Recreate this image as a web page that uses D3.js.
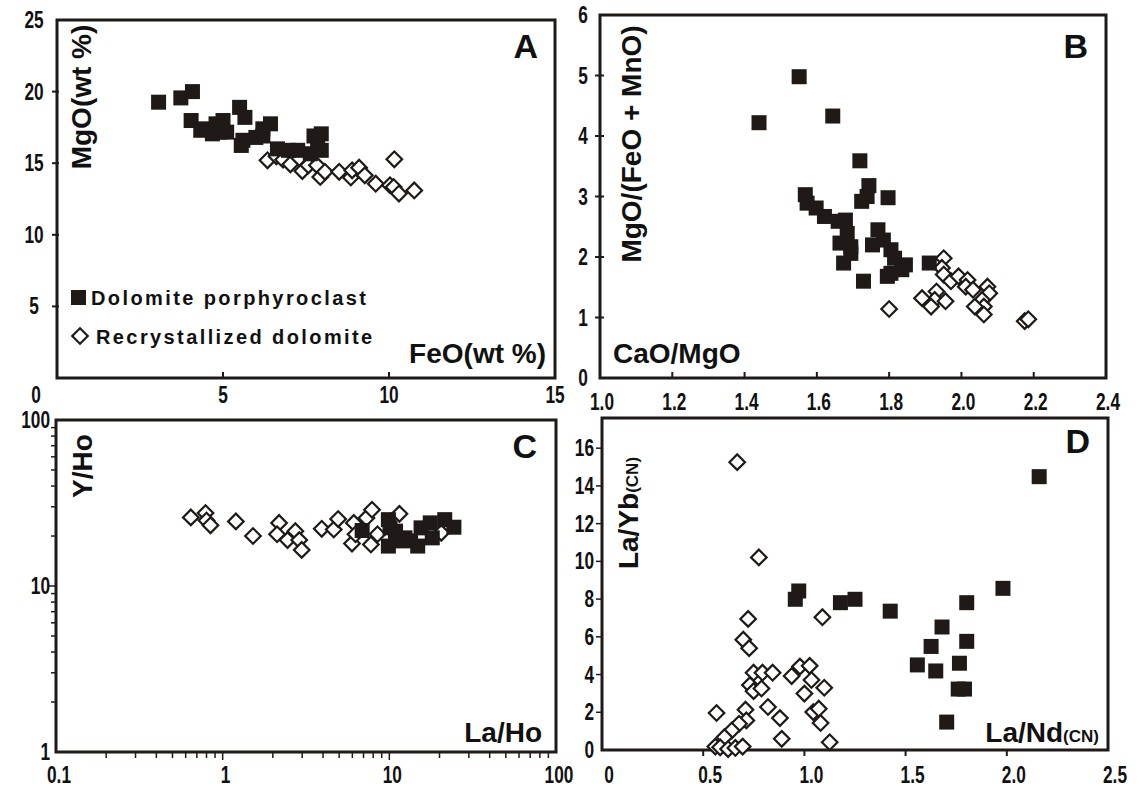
<!DOCTYPE html>
<html>
<head>
<meta charset="utf-8">
<script src="https://d3js.org/d3.v7.min.js"></script>
<style>
  body { margin: 0; background: #fff; }
  svg { display: block; }
  .tick { font-family: "Liberation Sans", Arial, sans-serif; font-weight: bold; font-size: 24px; fill: #111; }
  .title { font-family: "Liberation Sans", Arial, sans-serif; font-weight: bold; font-size: 28px; fill: #111; }
  .letter { font-family: "Liberation Sans", Arial, sans-serif; font-weight: bold; font-size: 34px; fill: #111; }
  .legend { font-family: "Liberation Sans", Arial, sans-serif; font-weight: bold; font-size: 20px; letter-spacing: 2.4px; fill: #111; }
</style>
</head>
<body>
<svg id="fig" width="1139" height="787"></svg>
<script>
// A: FeO (wt%) vs MgO (wt%)
const aPorphyro = [[3.06,19.26],[3.73,19.56],[4.08,20.0],[4.04,17.98],[4.33,17.3],[4.46,17.4],[4.68,17.05],
  [4.79,17.75],[4.9,17.17],[5.0,17.98],[5.11,17.17],[5.5,18.9],[5.66,18.2],[5.6,16.6],[5.55,16.24],
  [5.99,16.8],[6.2,16.9],[6.2,17.4],[6.43,17.75],[6.64,16.0],[6.97,15.9],[7.25,15.9],[7.63,15.66],
  [7.74,16.9],[7.96,17.05],[7.96,15.9],[7.85,16.36]];
const aRecryst = [[6.34,15.2],[6.61,15.48],[6.81,15.24],[7.03,14.92],[7.3,15.36],[7.39,14.45],[7.57,14.85],
  [7.83,14.85],[7.93,14.04],[8.07,14.4],[8.5,14.4],[8.85,14.0],[8.89,14.5],[9.1,14.69],[9.27,14.15],
  [9.6,13.57],[10.03,13.46],[10.16,15.27],[10.14,13.34],[10.3,12.88],[10.76,13.1]];

// B: CaO/MgO vs MgO/(FeO+MnO)
const bPorphyro = [[1.551,4.98],[1.44,4.22],[1.644,4.33],[1.719,3.59],[1.744,3.18],[1.739,3.0],[1.724,2.92],
  [1.797,2.98],[1.568,3.03],[1.573,2.89],[1.598,2.81],[1.621,2.67],[1.659,2.59],[1.679,2.61],[1.684,2.39],
  [1.664,2.23],[1.694,2.17],[1.694,2.06],[1.674,1.9],[1.729,1.6],[1.769,2.45],[1.754,2.2],[1.784,2.28],
  [1.805,2.12],[1.815,1.98],[1.805,1.73],[1.795,1.68],[1.845,1.87],[1.911,1.9],[1.835,1.79]];
const bRecryst = [[1.951,1.98],[1.946,1.82],[1.951,1.71],[1.971,1.6],[1.992,1.68],[2.017,1.62],[2.012,1.51],
  [2.032,1.46],[2.072,1.51],[2.077,1.4],[2.057,1.29],[2.062,1.18],[2.037,1.18],[2.062,1.05],[1.931,1.43],
  [1.926,1.29],[1.891,1.32],[1.916,1.18],[1.956,1.27],[1.8,1.14],[2.175,0.94],[2.185,0.97]];

// C: La/Ho vs Y/Ho (log-log)
const cPorphyro = [[6.87,21.6],[9.87,25.1],[10.1,22.4],[9.87,17.4],[10.9,21.4],[10.9,18.7],[12.4,19.5],
  [13.4,18.7],[14.8,17.4],[15.5,22.4],[17.6,24.0],[18.1,19.5],[21.5,25.1],[24.4,22.6]];
const cRecryst = [[0.644,25.9],[0.789,27.5],[0.80,24.8],[0.845,23.2],[1.2,24.5],[1.52,20.0],[2.18,24.0],
  [2.12,20.5],[2.45,18.9],[2.73,21.4],[2.88,18.9],[2.98,16.5],[3.93,22.1],[4.64,21.9],[4.93,25.3],
  [6.12,24.0],[5.97,18.0],[6.27,20.5],[7.29,25.7],[7.87,28.8],[7.75,17.8],[8.49,20.5],[11.5,27.2],[20.5,20.9]];

// D: La/Nd(CN) vs La/Yb(CN)
const dPorphyro = [[2.16,14.49],[0.972,8.43],[0.955,7.99],[1.178,7.81],[1.25,7.99],[1.424,7.36],[1.981,8.57],
  [1.802,7.81],[1.68,6.52],[1.802,5.76],[1.626,5.49],[1.558,4.51],[1.649,4.19],[1.766,4.6],[1.76,3.23],
  [1.791,3.23],[1.703,1.48]];
const dRecryst = [[0.668,15.26],[0.775,10.21],[0.722,6.95],[1.089,7.04],[0.698,5.85],[0.727,5.4],[0.978,4.42],
  [1.026,4.46],[0.937,3.92],[1.035,3.71],[1.0,2.99],[1.098,3.3],[0.749,4.1],[0.793,4.1],[0.843,4.1],
  [0.731,3.44],[0.749,3.12],[0.788,3.26],[0.82,2.28],[0.879,1.69],[0.888,0.59],[1.125,0.41],[1.044,2.01],
  [1.071,2.19],[1.08,1.43],[0.566,1.96],[0.709,2.14],[0.713,1.57],[0.677,1.39],[0.641,1.03],[0.605,0.68],
  [0.56,0.18],[0.584,0.14],[0.623,0.05],[0.659,0.11],[0.695,0.18]];

const ticksA_x = [5, 10, 15], ticksA_y = [5, 10, 15, 20, 25];
const ticksB_x = [1.0, 1.2, 1.4, 1.6, 1.8, 2.0, 2.2, 2.4], ticksB_y = [0, 1, 2, 3, 4, 5, 6];
const ticksC = [0.1, 1, 10, 100];
const ticksD_x = [0, 0.5, 1.0, 1.5, 2.0, 2.5], ticksD_y = [0, 2, 4, 6, 8, 10, 12, 14, 16];

const svg = d3.select("#fig");
const ink = "#1f1a17";
const narrow = 0.72; // tick numbers are set in a condensed face

function drawPoints(g, x, y, filled, open) {
  g.selectAll(".open").data(open).join("rect")
    .attr("class", "open")
    .attr("x", -5.5).attr("y", -5.5).attr("width", 11).attr("height", 11)
    .attr("transform", d => `translate(${x(d[0])},${y(d[1])}) rotate(45)`)
    .attr("fill", "#fff").attr("stroke", ink).attr("stroke-width", 2.2);
  g.selectAll(".fill").data(filled).join("rect")
    .attr("class", "fill")
    .attr("x", d => x(d[0]) - 7.5).attr("y", d => y(d[1]) - 7.5)
    .attr("width", 15).attr("height", 15)
    .attr("fill", ink);
}

function frame(g, l, t, r, b) {
  g.append("rect").attr("x", l).attr("y", t).attr("width", r - l).attr("height", b - t)
    .attr("fill", "none").attr("stroke", ink).attr("stroke-width", 3);
}

// condensed tick label
function label(g, data, fx, fy, anchor, fmt) {
  g.selectAll(null).data(data).join("text").attr("class", "tick")
    .attr("transform", d => `translate(${fx(d)},${fy(d)}) scale(${narrow},1)`)
    .attr("text-anchor", anchor).text(fmt);
}

// ---- Panel A
{
  const l = 57, t = 20, r = 555, b = 378;
  const x = d3.scaleLinear().domain([0, 15]).range([l, r]);
  const y = d3.scaleLinear().domain([0, 25]).range([b, t]);
  const g = svg.append("g");
  g.selectAll(".xt").data(ticksA_x.slice(0, 2)).join("line")
    .attr("x1", x).attr("x2", x).attr("y1", b).attr("y2", b - 6).attr("stroke", ink).attr("stroke-width", 2);
  g.selectAll(".yt").data(ticksA_y.slice(0, 4)).join("line")
    .attr("y1", y).attr("y2", y).attr("x1", l - 5).attr("x2", l + 2).attr("stroke", ink).attr("stroke-width", 2);
  frame(g, l, t, r, b);
  label(g, ticksA_x, x, () => 403, "middle", d => d);
  label(g, [0], () => 36, () => 403, "middle", d => d);
  label(g, ticksA_y, () => 34, d => y(d) + 8, "middle", d => d);
  drawPoints(g, x, y, aPorphyro, aRecryst);
  g.append("text").attr("class", "title").attr("font-size", "26.5px")
    .attr("transform", "translate(91,97) rotate(-90)")
    .attr("text-anchor", "middle").text("MgO(wt %)");
  g.append("text").attr("class", "title").attr("x", 546).attr("y", 363).attr("text-anchor", "end").text("FeO(wt %)");
  g.append("text").attr("class", "letter").attr("x", 538).attr("y", 58).attr("text-anchor", "end").text("A");
  // legend
  g.append("rect").attr("x", 71).attr("y", 290).attr("width", 15).attr("height", 15).attr("fill", ink);
  g.append("text").attr("class", "legend").attr("x", 91).attr("y", 305).text("Dolomite porphyroclast");
  g.append("rect").attr("x", -5.5).attr("y", -5.5).attr("width", 11).attr("height", 11)
    .attr("transform", "translate(80,336) rotate(45)")
    .attr("fill", "#fff").attr("stroke", ink).attr("stroke-width", 2.2);
  g.append("text").attr("class", "legend").attr("x", 96).attr("y", 344).text("Recrystallized dolomite");
}

// ---- Panel B
{
  const l = 600, t = 15, r = 1106, b = 378;
  const x = d3.scaleLinear().domain([1.0, 2.4]).range([l, r]);
  const y = d3.scaleLinear().domain([0, 6]).range([b, t]);
  const g = svg.append("g");
  g.selectAll(".xt").data(ticksB_x.slice(1, -1)).join("line")
    .attr("x1", x).attr("x2", x).attr("y1", b).attr("y2", b - 6).attr("stroke", ink).attr("stroke-width", 2);
  g.selectAll(".yt").data(ticksB_y.slice(1, -1)).join("line")
    .attr("y1", y).attr("y2", y).attr("x1", l - 5).attr("x2", l + 4).attr("stroke", ink).attr("stroke-width", 2);
  frame(g, l, t, r, b);
  label(g, ticksB_x, d => x(d) + 2, () => 410, "middle", d => d.toFixed(1));
  label(g, ticksB_y, () => 583, d => y(d) + 8, "middle", d => d);
  drawPoints(g, x, y, bPorphyro, bRecryst);
  g.append("text").attr("class", "title").attr("font-size", "28.5px")
    .attr("transform", "translate(641,144) rotate(-90)")
    .attr("text-anchor", "middle").text("MgO/(FeO + MnO)");
  g.append("text").attr("class", "title").attr("font-size", "30px").attr("x", 613).attr("y", 363).text("CaO/MgO");
  g.append("text").attr("class", "letter").attr("x", 1088).attr("y", 58).attr("text-anchor", "end").text("B");
}

// ---- Panel C
{
  const l = 56, t = 420, r = 556, b = 752;
  const x = d3.scaleLog().domain([0.1, 100]).range([l, r]);
  const y = d3.scaleLog().domain([1, 100]).range([b, t]);
  const g = svg.append("g");
  const minorX = x.ticks().filter(v => v > 0.1 && v < 100);
  const minorY = y.ticks().filter(v => v > 1 && v < 100);
  g.selectAll(".xt").data(minorX).join("line")
    .attr("x1", x).attr("x2", x).attr("y1", b)
    .attr("y2", d => ticksC.includes(d) ? b + 8 : b + 6).attr("stroke", ink).attr("stroke-width", 1.5);
  g.selectAll(".yt").data(minorY).join("line")
    .attr("y1", y).attr("y2", y).attr("x1", l)
    .attr("x2", d => ticksC.includes(d) ? l - 8 : l - 5).attr("stroke", ink).attr("stroke-width", 1.5);
  frame(g, l, t, r, b);
  label(g, ticksC, d => x(d) + 3, () => 783, "middle", d => d);
  label(g, ticksC.slice(1), () => 50, d => y(d) + 8, "end", d => d);
  drawPoints(g, x, y, cPorphyro, cRecryst);
  g.append("text").attr("class", "title").attr("font-size", "23px")
    .attr("transform", "translate(92,466) rotate(-90)")
    .attr("text-anchor", "middle").text("Y/Ho");
  g.append("text").attr("class", "title").attr("x", 542).attr("y", 742).attr("text-anchor", "end").text("La/Ho");
  g.append("text").attr("class", "letter").attr("x", 537).attr("y", 458).attr("text-anchor", "end").text("C");
}

// ---- Panel D
{
  const l = 602, t = 418, r = 1108, b = 750;
  const x = d3.scaleLinear().domain([0, 2.5]).range([l, r]);
  const y = d3.scaleLinear().domain([0, 17.6]).range([b, t]);
  const g = svg.append("g");
  g.selectAll(".xt").data(ticksD_x.slice(1, -1)).join("line")
    .attr("x1", x).attr("x2", x).attr("y1", b).attr("y2", b + 6).attr("stroke", ink).attr("stroke-width", 2);
  g.selectAll(".yt").data(ticksD_y.slice(1)).join("line")
    .attr("y1", y).attr("y2", y).attr("x1", l - 6).attr("x2", l).attr("stroke", ink).attr("stroke-width", 1.5);
  frame(g, l, t, r, b);
  label(g, ticksD_x, d => x(d) + 7, () => 783, "middle", d => d === 0 ? "0" : d.toFixed(1));
  label(g, ticksD_y, () => 594, d => y(d) + 8, "end", d => d);
  drawPoints(g, x, y, dPorphyro, dRecryst);
  const yt = g.append("text").attr("class", "title").attr("transform", "translate(638,513) rotate(-90)")
    .attr("text-anchor", "middle");
  yt.append("tspan").text("La/Yb");
  yt.append("tspan").attr("font-size", "17px").text("(CN)");
  const xt = g.append("text").attr("class", "title").attr("x", 1099).attr("y", 742).attr("text-anchor", "end");
  xt.append("tspan").text("La/Nd");
  xt.append("tspan").attr("font-size", "17px").text("(CN)");
  g.append("text").attr("class", "letter").attr("x", 1090).attr("y", 453).attr("text-anchor", "end").text("D");
}
</script>
</body>
</html>
